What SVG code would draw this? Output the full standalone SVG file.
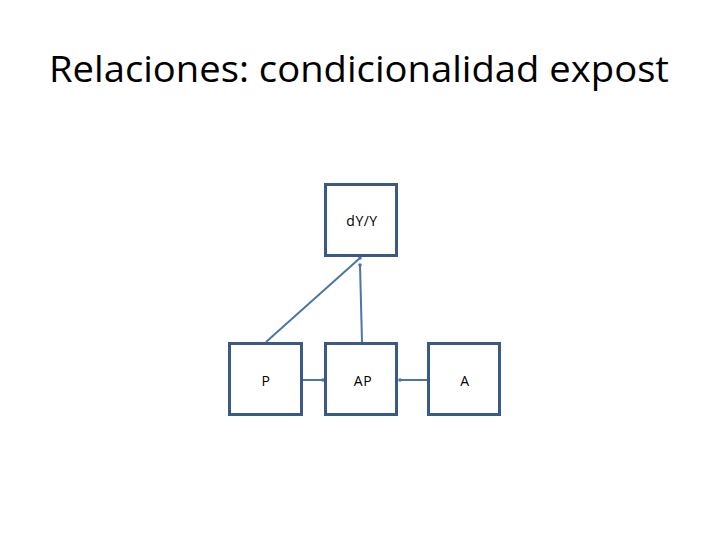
<svg xmlns="http://www.w3.org/2000/svg" width="720" height="540" viewBox="0 0 720 540">
<style>
.box{fill:#fff;stroke:#3A5A85;stroke-width:3}
.lbl{font-family:"Open Sans","Liberation Sans",sans-serif;font-size:14px;fill:#000;text-anchor:middle;letter-spacing:0.5px}
.con{stroke:#4A76A8;stroke-width:2;fill:none;marker-end:url(#dot)}
.title{font-family:"Open Sans","Liberation Sans",sans-serif;font-size:37px;fill:#000;text-anchor:middle}
</style>
<defs>
<marker id="dot" markerWidth="4" markerHeight="4" refX="2" refY="2" markerUnits="userSpaceOnUse">
<circle cx="2" cy="2" r="1.8" fill="#4A76A8"/>
</marker>
</defs>
<rect width="720" height="540" fill="#fff"/>
<text class="title" x="359" y="82" textLength="620" lengthAdjust="spacingAndGlyphs">Relaciones: condicionalidad expost</text>
<g id="connectors">
<line class="con" x1="266" y1="342" x2="360" y2="258"/>
<line class="con" x1="362" y1="342" x2="360" y2="265"/>
<line class="con" x1="302" y1="380" x2="323" y2="380"/>
<line class="con" x1="428" y1="380" x2="400" y2="380"/>
</g>
<g id="dYY"><rect class="box" x="325.5" y="184.5" width="71" height="71"/><text class="lbl" x="362" y="226">dY/Y</text></g>
<g id="P"><rect class="box" x="229.5" y="343.5" width="72" height="71"/><text class="lbl" x="266" y="386">P</text></g>
<g id="AP"><rect class="box" x="325.5" y="343.5" width="71" height="71"/><text class="lbl" x="363" y="386">AP</text></g>
<g id="A"><rect class="box" x="428.5" y="343.5" width="71" height="71"/><text class="lbl" x="465" y="386">A</text></g>
</svg>
